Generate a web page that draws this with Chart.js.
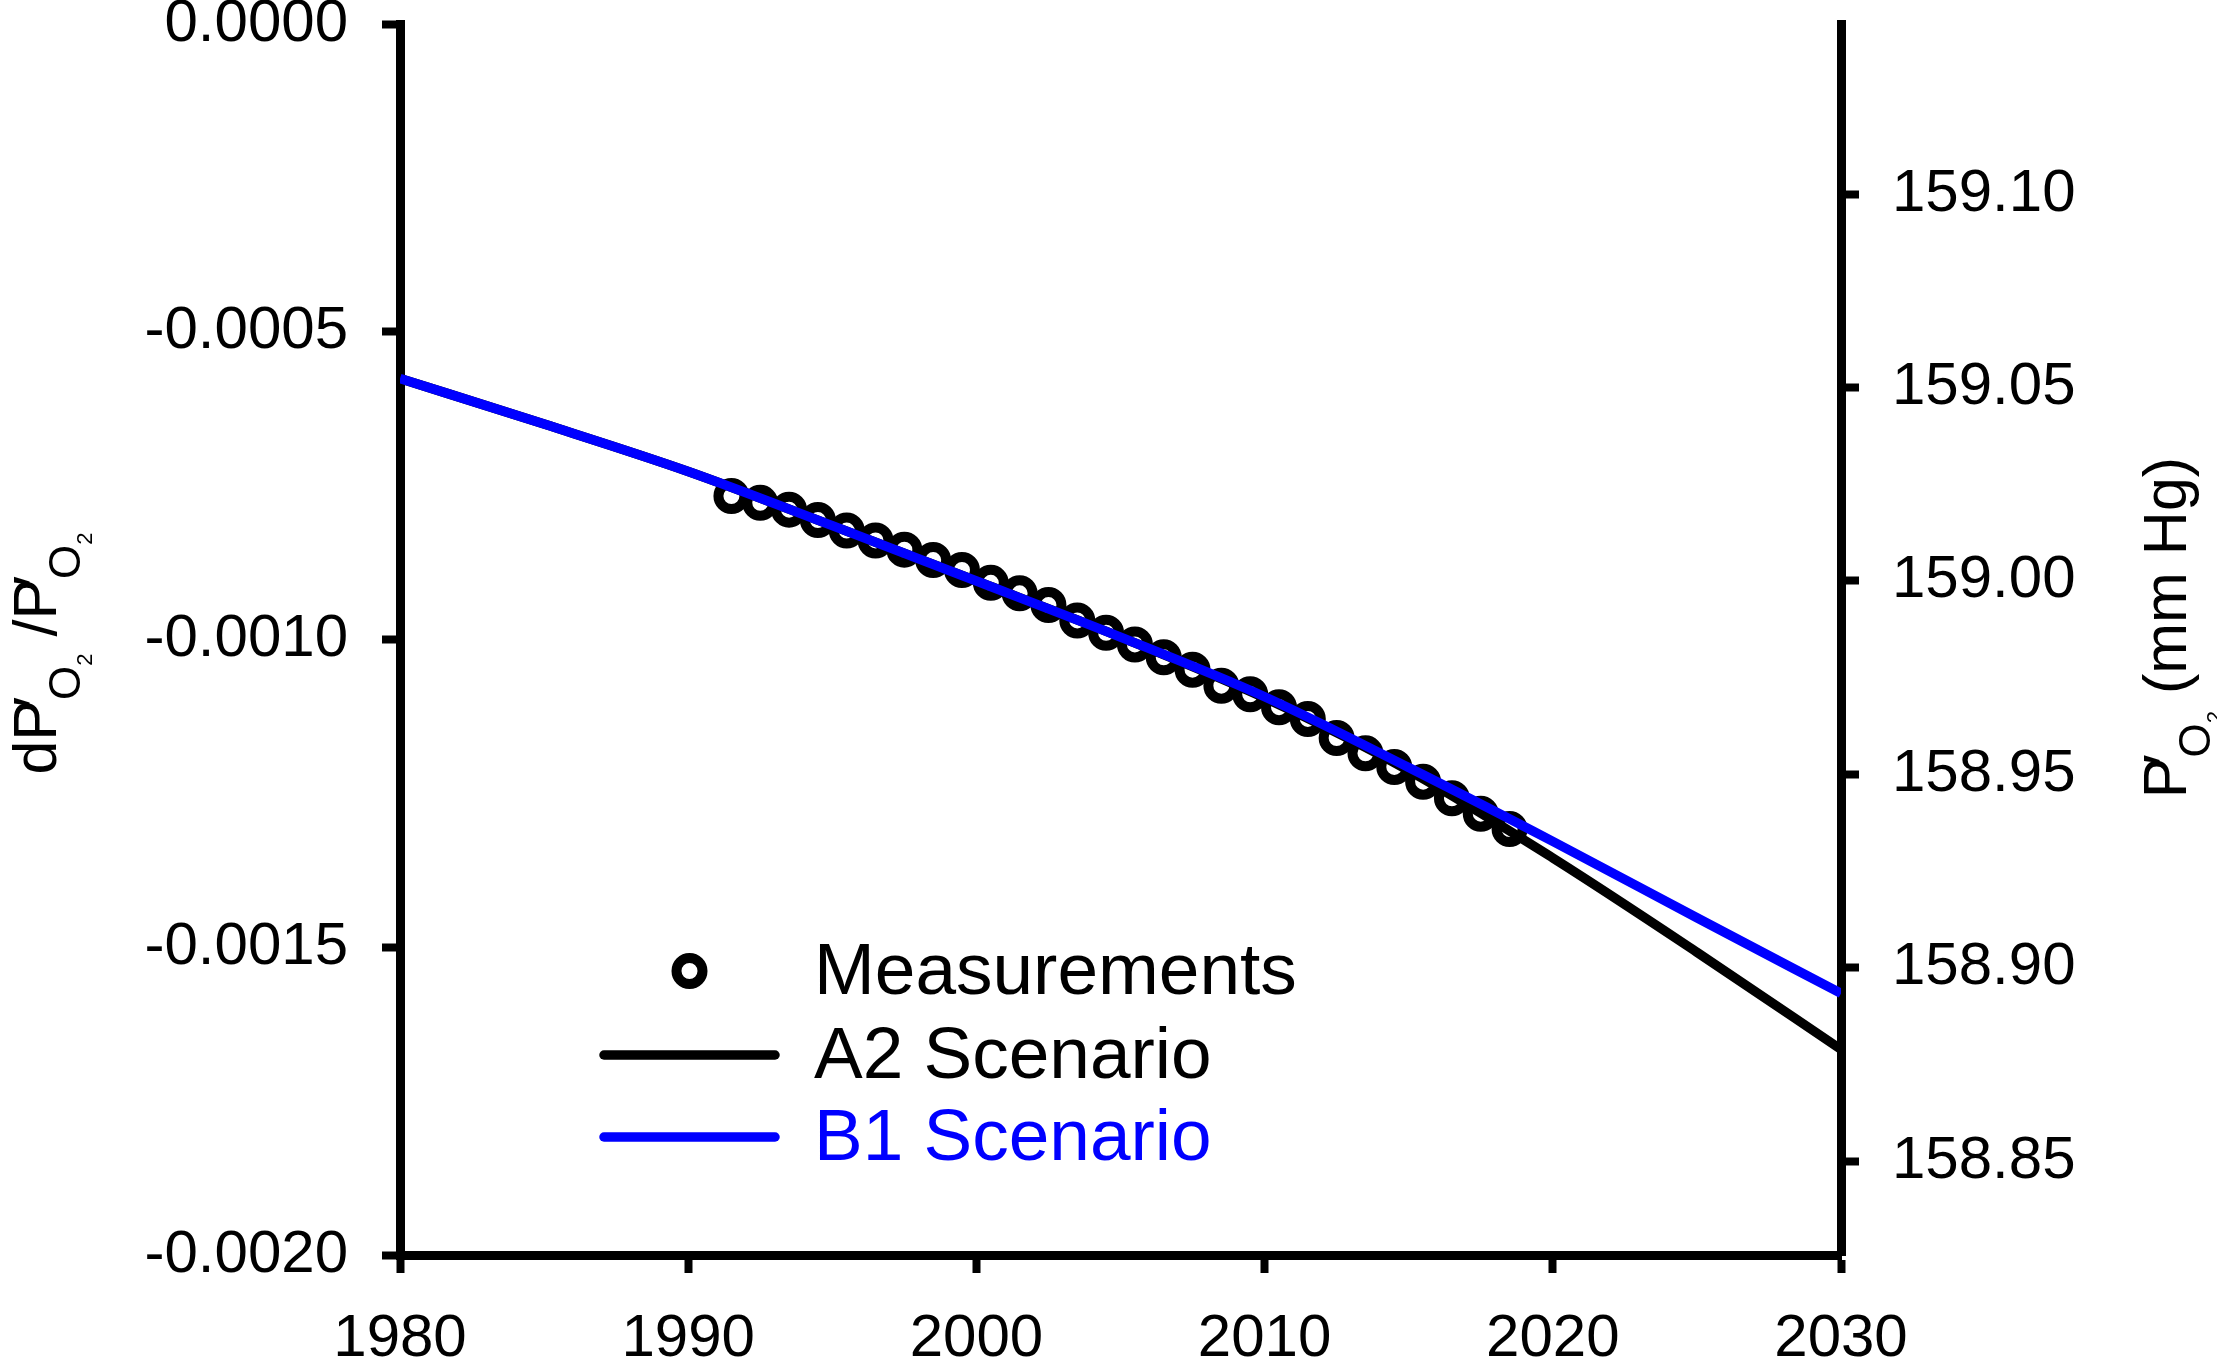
<!DOCTYPE html>
<html><head><meta charset="utf-8">
<script src="https://cdn.jsdelivr.net/npm/chart.js@4.4.1/dist/chart.umd.min.js"></script>
<style>html,body{margin:0;padding:0;background:#fff;overflow:hidden}canvas{display:block}</style>
</head><body>
<canvas id="c" width="2217" height="1358"></canvas>
<script>
// ---------- data ----------
const measYears = [1991.5,1992.5,1993.5,1994.5,1995.5,1996.5,1997.5,1998.5,1999.5,2000.5,
                   2001.5,2002.5,2003.5,2004.5,2005.5,2006.5,2007.5,2008.5,2009.5,2010.5,
                   2011.5,2012.5,2013.5,2014.5,2015.5,2016.5,2017.5,2018.5];
const measValues = [-0.000767,-0.000778,-0.000789,-0.000806,-0.000823,-0.000839,-0.000854,-0.000871,-0.000887,-0.000908,
                    -0.000925,-0.000944,-0.000969,-0.000989,-0.001008,-0.001029,-0.001049,-0.001075,-0.001089,-0.001110,
                    -0.001129,-0.001160,-0.001185,-0.001207,-0.001231,-0.001258,-0.001283,-0.001308];
const scenarioYears = [1980,1985,1990,1995,2000,2005,2010,2015,2020,2025,2030];
const a2Values = [-0.000576,-0.000650,-0.000727,-0.000815,-0.000905,-0.000996,-0.001095,-0.001213,-0.001355,-0.001508,-0.001666];
const b1Values = [-0.000576,-0.000650,-0.000727,-0.000815,-0.000905,-0.000996,-0.001093,-0.001208,-0.001328,-0.001452,-0.001575];
const xTicks = [1980,1990,2000,2010,2020,2030];
const leftTicks = [0,-0.0005,-0.0010,-0.0015,-0.0020];
const rightTicks = [158.85,158.90,158.95,159.00,159.05,159.10];
const P0 = 159.144; // P'O2 at dP'/P' = 0 (links the two y axes)
const seriesLabels = ['Measurements','A2 Scenario','B1 Scenario'];
// [text, level]  level 0 = normal, 1 = subscript, 2 = sub-subscript, 3 = prime (no advance)
const leftTitle = [['d',0],['P',0],['′',3],['O',1],['2',2],[' /',0],['P',0],['′',3],['O',1],['2',2]];
const rightTitle = [['P',0],['′',3],['O',1],['2',2],[' (mm Hg)',0]];

// ---------- styling ----------
const FONT = "'Liberation Sans', Arial, Helvetica, sans-serif";
const BLUE = '#0000ff';
const tickFont = {family: FONT, size: 60};
const pts = (xs, ys) => xs.map((x, i) => ({x, y: ys[i]}));

const gridOpts = {drawOnChartArea: false, drawTicks: true, tickLength: 18, tickWidth: 8, tickColor: '#000'};
const borderOpts = {display: true, width: 9, color: '#000'};

const titlesPlugin = {
  id: 'titles',
  afterDraw(chart) {
    const ctx = chart.ctx;
    const sizes = [61, 44, 22, 61];
    const offs = [0, 24, 36, 0];
    function draw(parts, bx, cy) {
      ctx.save();
      ctx.fillStyle = '#000';
      ctx.textBaseline = 'alphabetic';
      ctx.textAlign = 'left';
      let w = 0;
      parts.forEach(([t, lvl]) => { if (lvl === 3) return; ctx.font = sizes[lvl] + 'px ' + FONT; w += ctx.measureText(t).width; });
      ctx.translate(bx, cy);
      ctx.rotate(-Math.PI / 2);
      let x = -w / 2;
      parts.forEach(([t, lvl]) => {
        ctx.font = sizes[lvl] + 'px ' + FONT;
        if (lvl === 3) { ctx.fillText(t, x - 8, offs[lvl]); return; }
        ctx.fillText(t, x, offs[lvl]);
        x += ctx.measureText(t).width;
      });
      ctx.restore();
    }
    const a = chart.chartArea;
    draw(leftTitle, 56, (a.top + a.bottom) / 2 + 14);
    draw(rightTitle, 2186, (a.top + a.bottom) / 2 - 12);
  }
};

const legendPlugin = {
  id: 'customLegend',
  afterDraw(chart) {
    const ctx = chart.ctx, a = chart.chartArea;
    const x0 = a.left + 204, x1 = a.left + 375, tx = a.left + 414;
    const rows = [a.top + 947, a.top + 1031, a.top + 1113];
    const ds = chart.data.datasets;
    ctx.save();
    ctx.font = '73px ' + FONT;
    ctx.textBaseline = 'middle';
    ctx.textAlign = 'left';
    // Measurements
    const m = ds[2];
    ctx.beginPath();
    ctx.arc((x0 + x1) / 2, rows[0], m.pointRadius, 0, Math.PI * 2);
    ctx.lineWidth = m.pointBorderWidth;
    ctx.strokeStyle = m.pointBorderColor;
    ctx.stroke();
    ctx.fillStyle = '#000';
    ctx.fillText(m.label, tx, rows[0] + 3);
    // lines
    [ds[1], ds[0]].forEach((d, i) => {
      const y = rows[i + 1];
      ctx.beginPath();
      ctx.moveTo(x0, y); ctx.lineTo(x1, y);
      ctx.lineWidth = d.borderWidth; ctx.lineCap = 'round';
      ctx.strokeStyle = d.borderColor;
      ctx.stroke();
      ctx.fillStyle = d.borderColor;
      ctx.fillText(d.label, tx, y + 3);
    });
    ctx.restore();
  }
};

new Chart(document.getElementById('c'), {
  type: 'scatter',
  data: {
    datasets: [
      {label: seriesLabels[2], data: pts(scenarioYears, b1Values), showLine: true, borderColor: BLUE,
       borderWidth: 9.5, pointRadius: 0, fill: false, cubicInterpolationMode: 'monotone', order: 0, yAxisID: 'y'},
      {label: seriesLabels[1], data: pts(scenarioYears, a2Values), showLine: true, borderColor: '#000',
       borderWidth: 9.5, pointRadius: 0, fill: false, cubicInterpolationMode: 'monotone', order: 1, yAxisID: 'y'},
      {label: seriesLabels[0], data: pts(measYears, measValues), showLine: false, pointRadius: 13,
       pointBorderWidth: 10, pointBorderColor: '#000', pointBackgroundColor: 'rgba(0,0,0,0)',
       pointHoverRadius: 13, order: 2, yAxisID: 'y'}
    ]
  },
  options: {
    responsive: false, devicePixelRatio: 1, animation: false,
    layout: {padding: {top: 24, left: 0, right: 0, bottom: 0}},
    plugins: {legend: {display: false}, tooltip: {enabled: false}},
    scales: {
      x: {
        type: 'linear', position: 'bottom', min: 1980, max: 2030,
        afterBuildTicks: s => { s.ticks = xTicks.map(v => ({value: v})); },
        ticks: {font: tickFont, color: '#000', padding: 30, maxRotation: 0, autoSkip: false, callback: v => String(v)},
        grid: gridOpts, border: borderOpts,
        afterFit: s => { s.height = 103; s.paddingLeft = 0; s.paddingRight = 0; }
      },
      y: {
        type: 'linear', position: 'left', min: -0.002, max: 0,
        afterBuildTicks: s => { s.ticks = leftTicks.map(v => ({value: v})); },
        ticks: {font: tickFont, color: '#000', padding: 34, callback: v => Math.abs(v) < 1e-12 ? '0.0000' : v.toFixed(4)},
        grid: gridOpts, border: borderOpts,
        afterFit: s => { s.width = 400; s.paddingTop = 0; s.paddingBottom = 0; }
      },
      y2: {
        type: 'linear', position: 'right', min: P0 * (1 - 0.002), max: P0,
        afterBuildTicks: s => { s.ticks = rightTicks.map(v => ({value: v})); },
        ticks: {font: tickFont, color: '#000', padding: 33, callback: v => v.toFixed(2)},
        grid: gridOpts, border: borderOpts,
        afterFit: s => { s.width = 376; s.paddingTop = 0; s.paddingBottom = 0; }
      }
    }
  },
  plugins: [titlesPlugin, legendPlugin]
});
</script>
</body></html>
